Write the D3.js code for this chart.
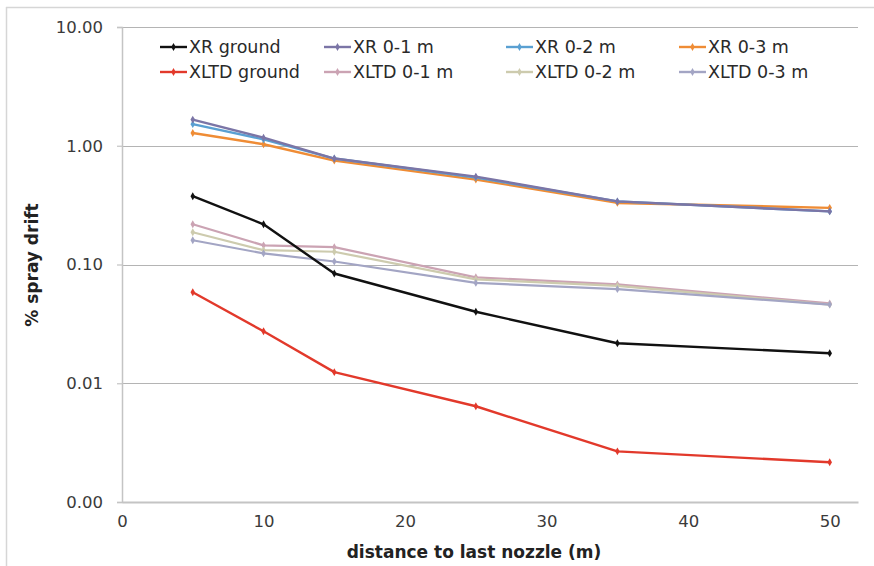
<!DOCTYPE html>
<html>
<head>
<meta charset="utf-8">
<script src="https://cdn.jsdelivr.net/npm/d3@7"></script>
<style>
  html, body { margin: 0; padding: 0; background: #fff; }
  svg { display: block; }
</style>
</head>
<body>
<svg id="chart" width="874" height="566"></svg>
<script>
// ---- data ----
const distances = [5, 10, 15, 25, 35, 50];
const seriesNames = ["XR ground", "XR 0-1 m", "XR 0-2 m", "XR 0-3 m",
                     "XLTD ground", "XLTD 0-1 m", "XLTD 0-2 m", "XLTD 0-3 m"];
const xrGround    = [0.376, 0.218, 0.084, 0.040, 0.0217, 0.0179];
const xr01        = [1.66, 1.17, 0.78, 0.55, 0.34, 0.28];
const xr02        = [1.52, 1.13, 0.78, 0.54, 0.34, 0.28];
const xr03        = [1.28, 1.03, 0.75, 0.52, 0.33, 0.30];
const xltdGround  = [0.0584, 0.0274, 0.0124, 0.0064, 0.00267, 0.00216];
const xltd01      = [0.218, 0.145, 0.140, 0.078, 0.068, 0.047];
const xltd02      = [0.187, 0.132, 0.128, 0.075, 0.066, 0.046];
const xltd03      = [0.160, 0.124, 0.106, 0.070, 0.062, 0.046];
const yTicks = [10, 1, 0.1, 0.01, 0.001];
const xTicks = [0, 10, 20, 30, 40, 50];
const xTitle = "distance to last nozzle (m)";
const yTitle = "% spray drift";

const seriesValues = [xrGround, xr01, xr02, xr03, xltdGround, xltd01, xltd02, xltd03];
const colors = ["#111111", "#7b75a6", "#5aa0d2", "#ef8c35",
                "#e2392b", "#cba3b3", "#cdcbae", "#a3a5c4"];
const widths = [2.4, 2.4, 2.4, 2.4, 2.4, 2.2, 2.2, 2.2];

const series = seriesNames.map((name, i) => ({
  name, color: colors[i], width: widths[i],
  points: distances.map((d, j) => ({x: d, y: seriesValues[i][j]}))
}));

// ---- layout ----
const svg = d3.select("#chart");
const L = 122, T = 27, R = 858, B = 502;
const font = "'DejaVu Sans', Verdana, sans-serif";

const x = d3.scaleLinear().domain([0, 52]).range([L, R]);
const y = d3.scaleLog().domain([0.001, 10]).range([B, T]);

// outer border (cropped figure)
svg.append("line").attr("x1", 6).attr("x2", 874).attr("y1", 7.5).attr("y2", 7.5)
  .attr("stroke", "#d6d6d6").attr("stroke-width", 1.5);
svg.append("line").attr("x1", 6.5).attr("x2", 6.5).attr("y1", 7).attr("y2", 566)
  .attr("stroke", "#d6d6d6").attr("stroke-width", 1.5);

// gridlines
svg.append("g").selectAll("line").data(yTicks.filter(t => t > 0.001))
  .join("line")
  .attr("x1", L).attr("x2", R)
  .attr("y1", d => Math.round(y(d)) + 0.5).attr("y2", d => Math.round(y(d)) + 0.5)
  .attr("stroke", "#b4b4b4").attr("stroke-width", 1.2);

// y axis
const yAxis = d3.axisLeft(y).tickValues(yTicks).tickFormat(d3.format(".2f"))
  .tickSize(5).tickPadding(14);
const gy = svg.append("g").attr("transform", `translate(${L},0)`).call(yAxis);
gy.select(".domain").attr("stroke", "#c4c4c4").attr("stroke-width", 1.5);
gy.selectAll(".tick line").attr("stroke", "#c4c4c4").attr("stroke-width", 1.2);
gy.selectAll(".tick text").attr("font-family", font).attr("font-size", 16.5)
  .attr("fill", "#3a3a3a");

// x axis
const xAxis = d3.axisBottom(x).tickValues(xTicks).tickFormat(d3.format("d"))
  .tickSize(0).tickPadding(13);
const gx = svg.append("g").attr("transform", `translate(0,${B})`).call(xAxis);
gx.select(".domain").attr("stroke", "#c4c4c4").attr("stroke-width", 2);
gx.selectAll(".tick text").attr("font-family", font).attr("font-size", 16.5)
  .attr("fill", "#3a3a3a");

// axis titles
svg.append("text").attr("x", 474).attr("y", 558).attr("text-anchor", "middle")
  .attr("font-family", font).attr("font-size", 17).attr("font-weight", "bold")
  .attr("fill", "#222").text(xTitle);
svg.append("text").attr("transform", "translate(38,265) rotate(-90)")
  .attr("text-anchor", "middle")
  .attr("font-family", font).attr("font-size", 17).attr("font-weight", "bold")
  .attr("fill", "#222").text(yTitle);

// lines (draw light ones first, strong ones on top)
const line = d3.line().x(d => x(d.x)).y(d => y(d.y));
const drawOrder = [5, 6, 7, 3, 2, 1, 4, 0];
const sym = d3.symbol().type(d3.symbolDiamond).size(18);
drawOrder.forEach(i => {
  const s = series[i];
  const g = svg.append("g");
  g.append("path").datum(s.points).attr("d", line)
    .attr("fill", "none").attr("stroke", s.color).attr("stroke-width", s.width)
    .attr("stroke-linejoin", "round");
  g.selectAll("path.m").data(s.points).join("path").attr("class", "m")
    .attr("d", sym).attr("transform", d => `translate(${x(d.x)},${y(d.y)})`)
    .attr("fill", s.color);
});

// legend
const legCols = [160, 324, 506, 679];
const legRows = [47, 72];
series.forEach((s, i) => {
  const cx = legCols[i % 4], cy = legRows[Math.floor(i / 4)];
  const g = svg.append("g").attr("transform", `translate(${cx},${cy})`);
  g.append("line").attr("x1", 0).attr("x2", 27).attr("y1", 0).attr("y2", 0)
    .attr("stroke", s.color).attr("stroke-width", 2.4);
  g.append("path").attr("d", sym).attr("transform", "translate(13.5,0)").attr("fill", s.color);
  g.append("text").attr("x", 29).attr("y", 0).attr("dy", "0.36em")
    .attr("font-family", font).attr("font-size", 17.5).attr("fill", "#2a2a2a")
    .text(s.name);
});
</script>
</body>
</html>
